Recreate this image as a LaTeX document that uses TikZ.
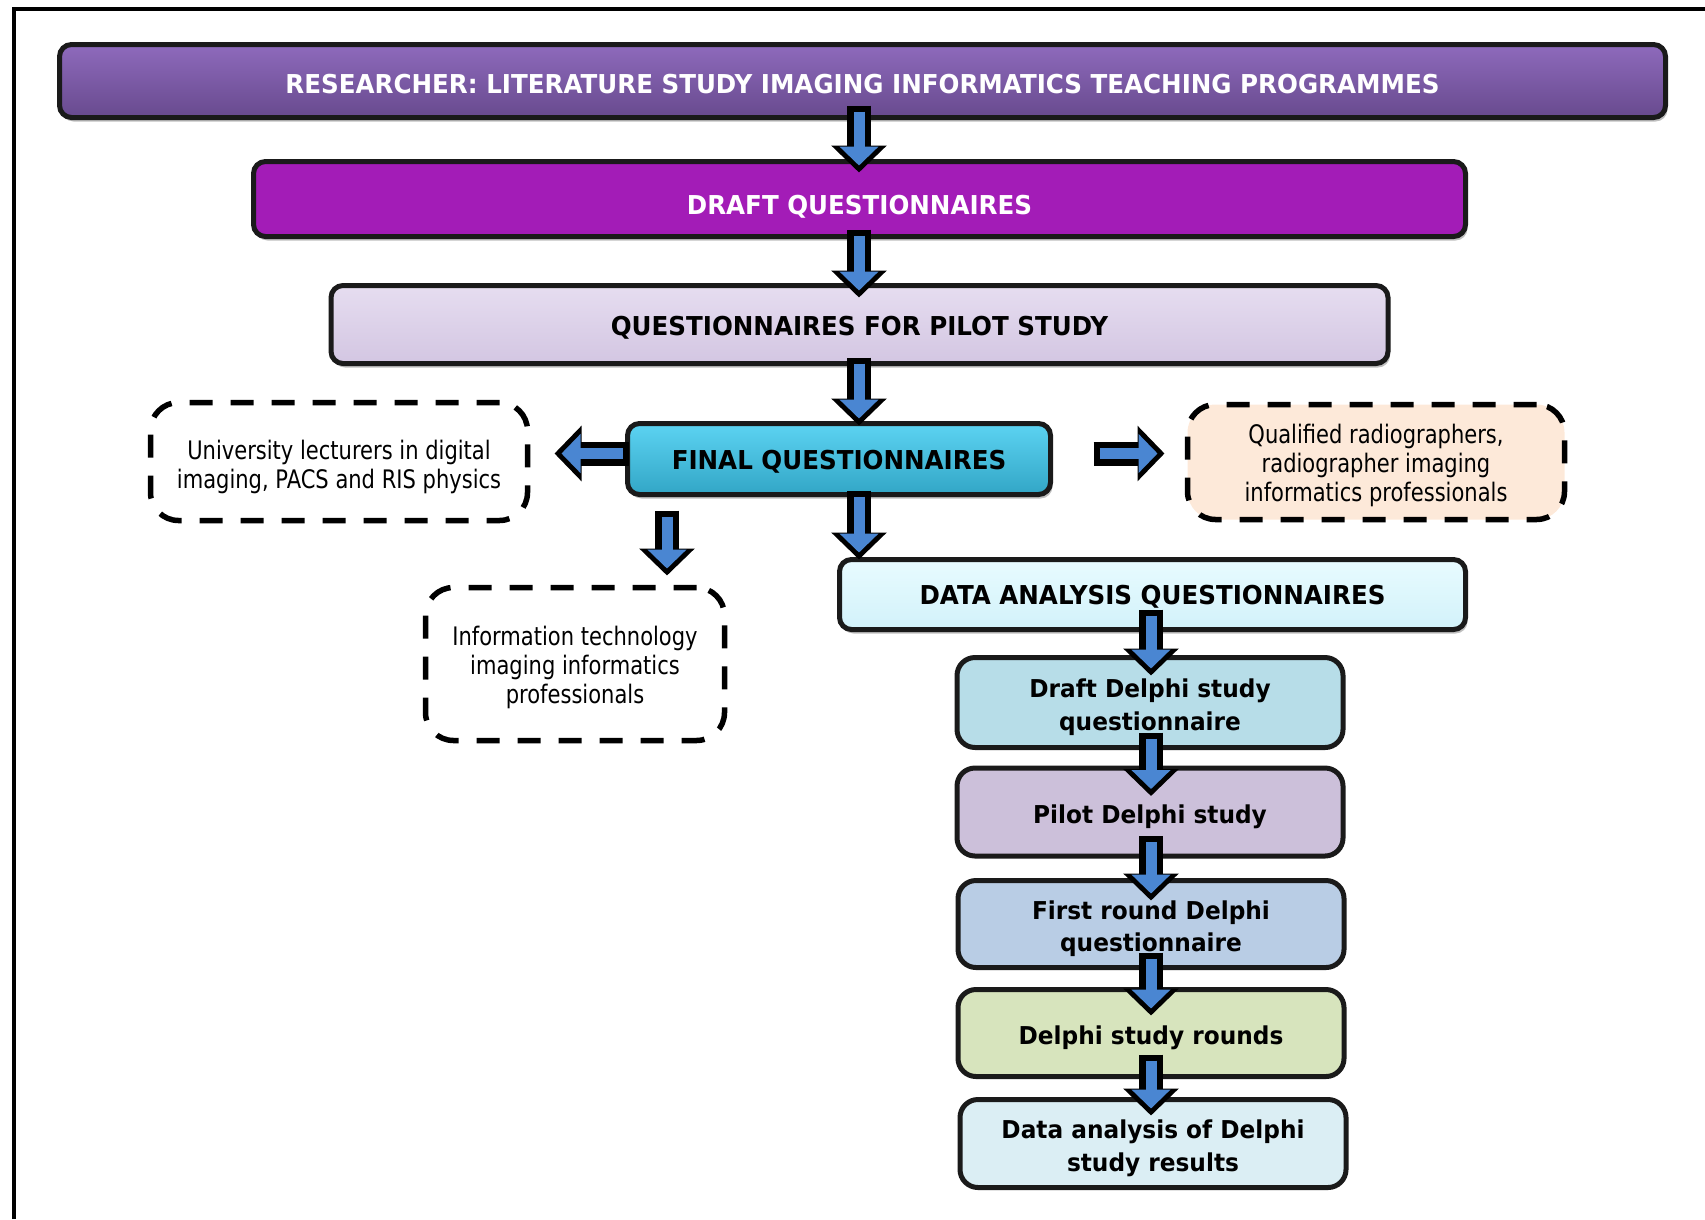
\documentclass[tikz,border=0pt]{standalone}
\usepackage{fontspec}
\setmainfont{DejaVu Sans}[FakeStretch=0.825]
\newfontfamily\hdfont{DejaVu Sans}[FakeStretch=0.945]
\usetikzlibrary{arrows.meta,shadows}

\definecolor{boxline}{HTML}{1A1A1A}
\definecolor{arrowblue}{HTML}{4A86D2}
\definecolor{resTop}{HTML}{8E6ABC}
\definecolor{resBot}{HTML}{684A8E}
\definecolor{draftTop}{HTML}{D350E4}
\definecolor{draftMid}{HTML}{A31CB7}
\definecolor{draftBot}{HTML}{9618AA}
\definecolor{pilotTop}{HTML}{E6DDF0}
\definecolor{pilotBot}{HTML}{D3C6E2}
\definecolor{finalTop}{HTML}{5CD3F2}
\definecolor{finalMid}{HTML}{3CB9D9}
\definecolor{finalBot}{HTML}{32A6C6}
\definecolor{dataTop}{HTML}{E8FBFF}
\definecolor{dataBot}{HTML}{D2F2FA}
\definecolor{peach}{HTML}{FDE9D9}
\definecolor{dOne}{HTML}{B7DDE8}
\definecolor{dTwo}{HTML}{CCC0DA}
\definecolor{dThree}{HTML}{B9CDE5}
\definecolor{dFour}{HTML}{D7E4BD}
\definecolor{dFive}{HTML}{DBEEF4}

% magenta fill with a thin light band along the top
\pgfdeclareverticalshading{draftshade}{100bp}{%
  color(0bp)=(draftBot); color(30bp)=(draftMid); color(86bp)=(draftMid);
  color(93bp)=(draftTop); color(100bp)=(draftTop)}

% a strut that makes the first line taller, lowering the text in its box
\newcommand\lowerby[1]{\rule{0pt}{#1}}

\tikzset{
  box/.style={draw=boxline, line width=5pt, rounded corners=12pt,
    inner sep=0pt, outer sep=0pt, align=center},
  shadowed/.style={drop shadow={shadow xshift=2pt, shadow yshift=-4pt,
    opacity=0.25, fill=black}},
  % caps title text; the value lowers the caps below the box centre
  captext/.style={font={\hdfont\bfseries\fontsize{26}{31}\selectfont},
    text height=19pt+2*#1, text depth=0pt},
  captext/.default=0pt,
  delphitext/.style={font={\hdfont\bfseries\fontsize{24.6}{32.5}\selectfont}},
  plaintext/.style={font={\fontsize{25.5}{29}\selectfont}},
  dashbox/.style={draw=black, line width=5.5pt, rounded corners=28pt,
    dash pattern=on 23pt off 18pt, inner sep=0pt, outer sep=0pt,
    align=center, plaintext},
  delphibox/.style={box, rounded corners=18pt, delphitext,
    minimum width=386pt},
  arrowout/.style={draw=black, line width=24pt,
    -{Triangle[width=54pt,length=27pt]}},
  arrowin/.style={draw=arrowblue, line width=11pt,
    -{Triangle[width=38pt,length=19pt]}}
}

% block arrow from #1 to #2; #3 and #4 extend the start and the tip (pt)
\newcommand\blockarrow[4]{%
  \pgfmathsetmacro\baSo{-(#3)}%
  \pgfmathsetmacro\baEo{-(#4)}%
  \pgfmathsetmacro\baSi{6-(#3)}%
  \pgfmathsetmacro\baEi{7-(#4)}%
  \draw[arrowout, shorten <=\baSo pt, shorten >=\baEo pt] (#1) -- (#2);
  \draw[arrowin, shorten <=\baSi pt, shorten >=\baEi pt] (#1) -- (#2);
}

\begin{document}
\begin{tikzpicture}[x=1pt, y=-1pt]
\useasboundingbox (0,0) rectangle (1705,1219);

% outer frame
\draw[line width=4.5pt, line join=miter] (14,1219) -- (14,9) -- (1705,9);

% main column
\node[box, shadowed, captext=2.5pt, text=white, top color=resTop, bottom color=resBot,
  minimum width=1606pt, minimum height=73pt] (res) at (862.5,81)
  {RESEARCHER: LITERATURE STUDY IMAGING INFORMATICS TEACHING PROGRAMMES};
\node[box, shadowed, captext=6pt, text=white, shading=draftshade,
  minimum width=1212pt, minimum height=75pt] (draft)
  at (859.5,199) {DRAFT QUESTIONNAIRES};
\node[box, shadowed, captext=1.5pt, top color=pilotTop, bottom color=pilotBot,
  minimum width=1057pt, minimum height=78pt] (pilot) at (859.5,324.5)
  {QUESTIONNAIRES FOR PILOT STUDY};
\node[box, shadowed, captext=1pt, top color=finalTop, middle color=finalMid,
  bottom color=finalBot, minimum width=423pt, minimum height=71pt] (final)
  at (839,459) {FINAL QUESTIONNAIRES};

% participant groups
\node[dashbox, fill=white, minimum width=377pt, minimum height=118pt] (lect)
  at (339,461.5) {\lowerby{31pt}University lecturers in digital\\imaging, PACS and RIS physics};
\node[dashbox, fill=peach, minimum width=377pt, minimum height=115pt] (radio)
  at (1376,462) {\lowerby{26.5pt}Qualified radiographers,\\radiographer imaging\\informatics professionals};
\node[dashbox, fill=white, minimum width=299pt, minimum height=153pt] (itpro)
  at (575,664) {\lowerby{25.5pt}Information technology\\imaging informatics\\professionals};

% analysis and Delphi chain
\node[box, shadowed, captext=0.5pt, top color=dataTop, bottom color=dataBot,
  minimum width=626pt, minimum height=70pt] (dataq) at (1152.5,594.5)
  {DATA ANALYSIS QUESTIONNAIRES};
\node[delphibox, fill=dOne, minimum height=90pt] (d1) at (1150,702.5)
  {\lowerby{28pt}Draft Delphi study\\questionnaire};
\node[delphibox, fill=dTwo, minimum height=88pt] (d2) at (1150,812)
  {\lowerby{28pt}Pilot Delphi study};
\node[delphibox, fill=dThree, minimum height=87pt] (d3) at (1151,924)
  {\lowerby{28pt}First round Delphi\\questionnaire};
\node[delphibox, fill=dFour, minimum height=87pt] (d4) at (1151,1033)
  {\lowerby{28pt}Delphi study rounds};
\node[delphibox, fill=dFive, minimum height=88pt] (d5) at (1153,1143.5)
  {\lowerby{28pt}Data analysis of Delphi\\study results};

% arrow columns and side-arrow anchors
\coordinate (mcol) at (859,0);
\coordinate (dcol) at (1151,0);
\coordinate (icol) at (667,0);
\coordinate (fw) at ([yshift=5.5pt]final.west);
\coordinate (fe) at ([yshift=5.5pt]final.east);

% connectors
\blockarrow{res.south -| mcol}{draft.north -| mcol}{12}{11}
\blockarrow{draft.south -| mcol}{pilot.north -| mcol}{7}{12}
\blockarrow{pilot.south -| mcol}{final.north -| mcol}{6}{2}
\blockarrow{final.south -| mcol}{dataq.north -| mcol}{4}{0}
\blockarrow{fw}{fw -| lect.east}{1}{-27}
\blockarrow{fe}{fe -| radio.west}{-43}{-23}
\blockarrow{final.south -| icol}{itpro.north -| icol}{-16}{-12}
\blockarrow{dataq.south -| dcol}{d1.north -| dcol}{20}{18}
\blockarrow{d1.south -| dcol}{d2.north -| dcol}{15}{28}
\blockarrow{d2.south -| dcol}{d3.north -| dcol}{20}{20}
\blockarrow{d3.south -| dcol}{d4.north -| dcol}{15}{26}
\blockarrow{d4.south -| dcol}{d5.north -| dcol}{22}{16}
\end{tikzpicture}
\end{document}
